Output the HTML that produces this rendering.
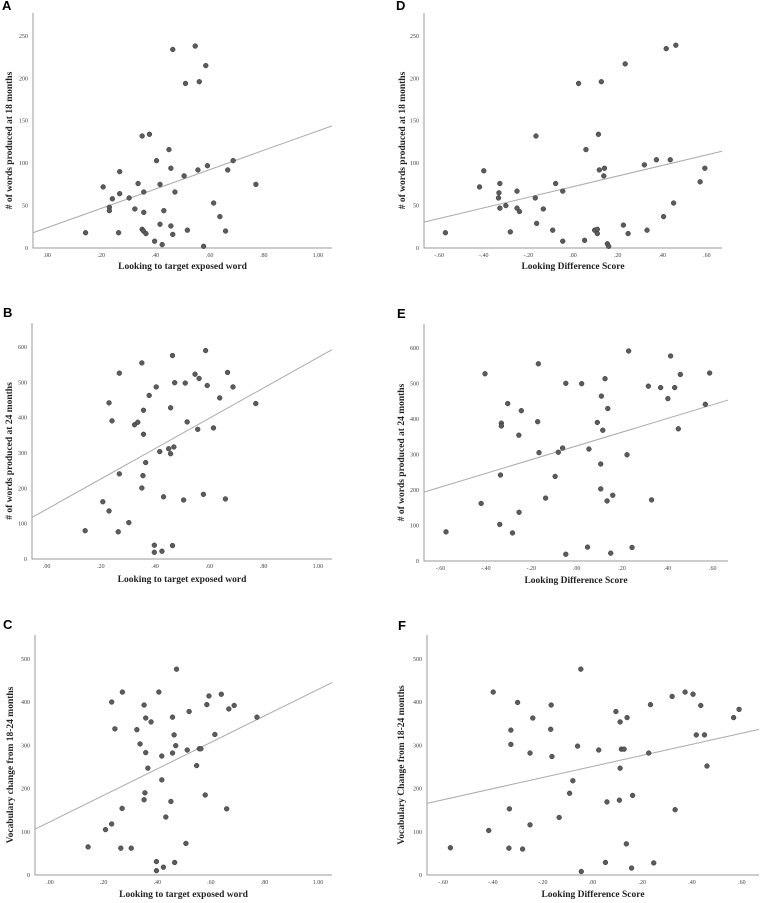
<!DOCTYPE html>
<html><head><meta charset="utf-8"><style>
html,body{margin:0;padding:0;background:#fff;}
svg{display:block;}
</style></head><body>
<svg id="fig" width="760" height="903" viewBox="0 0 760 903" xmlns="http://www.w3.org/2000/svg"></svg>
<script>
// ---- Panel A data ----
const aX=[.142,.207,.230,.230,.241,.268,.268,.264,.303,.324,.336,.351,.351,.356,.365,.357,.357,.378,.397,.404,.417,.417,.425,.431,.450,.457,.457,.464,.464,.472,.506,.511,.518,.547,.557,.562,.578,.586,.592,.615,.638,.659,.667,.687,.771];
const aY=[18,72,48,44,58,90,64,18,59,46,76,132,22,20,17,66,42,134,8,103,75,28,4,44,116,94,26,234,16,66,85,194,21,238,92,196,2,215,97,53,37,20,92,103,75];
const aFit=[23.9,114.1];
// ---- Panel D data ----
const dX=[-.572,-.419,-.400,-.334,-.332,-.328,-.328,-.301,-.281,-.251,-.251,-.240,-.169,-.166,-.163,-.133,-.091,-.078,-.046,-.046,.025,.052,.058,.097,.109,.109,.114,.118,.127,.138,.141,.154,.160,.226,.234,.247,.320,.332,.374,.406,.418,.436,.451,.461,.570,.591];
const dY=[18,72,91,59,65,76,47,50,19,67,47,43,59,132,29,46,21,76,67,8,194,9,116,21,22,17,134,92,196,85,94,5,2,27,217,17,98,21,104,37,235,104,53,239,78,94];
const dFit=[72.3,62.5];
// ---- Panel B data ----
const bX=[.142,.207,.230,.230,.241,.268,.268,.264,.303,.324,.336,.351,.351,.355,.357,.357,.365,.378,.397,.397,.404,.417,.425,.431,.450,.457,.457,.464,.464,.469,.472,.505,.511,.518,.547,.557,.562,.578,.586,.592,.615,.638,.659,.667,.687,.771];
const bY=[80,162,136,442,391,526,241,77,103,380,387,555,201,236,421,353,273,463,39,19,487,304,22,176,312,428,298,576,38,317,499,167,498,388,523,367,511,183,590,491,371,456,170,528,487,440];
const bFit=[140.8,429.4];
// ---- Panel E data ----
const eX=[-.576,-.421,-.404,-.339,-.336,-.332,-.332,-.304,-.283,-.255,-.254,-.244,-.172,-.169,-.166,-.137,-.095,-.081,-.062,-.048,-.048,.022,.048,.054,.091,.106,.106,.109,.115,.125,.134,.137,.150,.159,.222,.229,.244,.316,.330,.370,.402,.414,.432,.448,.457,.567,.586];
const eY=[82,162,527,103,242,388,380,443,79,354,137,423,392,555,305,177,238,306,318,500,19,499,39,315,390,273,203,464,368,513,169,429,22,185,299,591,38,492,172,488,457,577,488,372,525,441,529];
const eFit=[324,193.3];
// ---- Panel C data ----
const cX=[.142,.207,.230,.230,.242,.270,.269,.264,.303,.324,.336,.351,.351,.354,.357,.357,.365,.377,.397,.397,.406,.417,.417,.423,.432,.451,.457,.457,.463,.465,.469,.472,.507,.512,.519,.547,.557,.563,.579,.585,.593,.615,.639,.659,.667,.687,.772];
const cY=[65,105,118,400,338,423,154,62,62,336,303,393,174,190,363,283,247,354,31,10,423,275,220,18,134,170,282,365,324,29,299,476,73,289,378,253,292,292,185,394,414,325,418,153,384,392,365];
const cFit=[123,306];
// ---- Panel F data ----
const fX=[-.571,-.417,-.399,-.334,-.336,-.328,-.328,-.301,-.281,-.251,-.251,-.240,-.168,-.166,-.163,-.134,-.092,-.079,-.060,-.047,-.045,.025,.052,.058,.094,.108,.111,.111,.116,.127,.136,.139,.157,.161,.226,.233,.246,.320,.332,.372,.404,.417,.435,.450,.460,.567,.589];
const fY=[63,103,423,153,62,335,302,399,60,282,116,363,337,393,274,133,189,218,298,476,8,289,29,169,378,173,247,354,291,291,72,364,16,184,282,394,28,413,151,423,418,324,392,324,252,364,383];
const fFit=[251,128.2];
// ---- tick labels ----
const xTicksLook=[0,.2,.4,.6,.8,1.0];
const xTickLabelsLook=[".00",".20",".40",".60",".80","1.00"];
const xTicksDiff=[-.6,-.4,-.2,0,.2,.4,.6];
const xTickLabelsDiff=["-.60","-.40","-.20",".00",".20",".40",".60"];
const yTicks250=[0,50,100,150,200,250];
const yTicks600=[0,100,200,300,400,500,600];
const yTicks500=[0,100,200,300,400,500];

const NS="http://www.w3.org/2000/svg";
const svg=document.getElementById('fig');
function mk(tag,attrs,parent){const e=document.createElementNS(NS,tag);for(const k in attrs)e.setAttribute(k,attrs[k]);(parent||svg).appendChild(e);return e;}

const panels=[
 {id:'a',letter:'A',lx:2,ly:10,L:33,R:332,T:13,B:248,x0:-0.052,x1:1.052,y1:277,X:aX,Y:aY,fit:aFit,xt:xTicksLook,xl:xTickLabelsLook,yt:yTicks250,yTitle:'# of words produced at 18 months',xTitle:'Looking to target exposed word',ytx:10,tty:269},
 {id:'d',letter:'D',lx:396,ly:10,L:424,R:722,T:13,B:248,x0:-0.668,x1:0.668,y1:277,X:dX,Y:dY,fit:dFit,xt:xTicksDiff,xl:xTickLabelsDiff,yt:yTicks250,yTitle:'# of words produced at 18 months',xTitle:'Looking Difference Score',ytx:403,tty:269},
 {id:'b',letter:'B',lx:3,ly:317,L:32,R:332,T:323,B:559,x0:-0.054,x1:1.052,y1:668,X:bX,Y:bY,fit:bFit,xt:xTicksLook,xl:xTickLabelsLook,yt:yTicks600,yTitle:'# of words produced at 24 months',xTitle:'Looking to target exposed word',ytx:10,tty:582},
 {id:'e',letter:'E',lx:397,ly:318,L:424,R:728,T:324,B:561,x0:-0.673,x1:0.667,y1:667,X:eX,Y:eY,fit:eFit,xt:xTicksDiff,xl:xTickLabelsDiff,yt:yTicks600,yTitle:'# of words produced at 24 months',xTitle:'Looking Difference Score',ytx:402,tty:583},
 {id:'c',letter:'C',lx:3,ly:629,L:35,R:332,T:635,B:875,x0:-0.056,x1:1.052,y1:555,X:cX,Y:cY,fit:cFit,xt:xTicksLook,xl:xTickLabelsLook,yt:yTicks500,yTitle:'Vocabulary change from 18-24 months',xTitle:'Looking to target exposed word',ytx:11,tty:897},
 {id:'f',letter:'F',lx:398,ly:630,L:427,R:759,T:635,B:875,x0:-0.665,x1:0.669,y1:555,X:fX,Y:fY,fit:fFit,xt:xTicksDiff,xl:xTickLabelsDiff,yt:yTicks500,yTitle:'Vocabulary Change from 18-24 months',xTitle:'Looking Difference Score',ytx:402,tty:897}
];

panels.forEach(p=>{
  const g=mk('g',{});
  
  
  const sx=v=>p.L+(v-p.x0)/(p.x1-p.x0)*(p.R-p.L);
  const sy=v=>p.B-v/p.y1*(p.B-p.T);
  const lab=mk('text',{x:p.lx,y:p.ly,'font-family':'Liberation Sans, sans-serif','font-weight':'bold','font-size':'13'},g);
  lab.textContent=p.letter;
  
  
  const ax=mk('path',{d:`M${p.L} ${p.T}V${p.B}H${p.R}`,fill:'none',stroke:'#999','stroke-width':'1'},g);
  
  
  p.xt.forEach((t,i)=>{
    const tx=mk('text',{x:sx(t),y:p.B+9,'text-anchor':'middle','font-family':'Liberation Serif, serif','font-size':'6',fill:'#444'},g);
    tx.textContent=p.xl[i];
    
    
  });
  p.yt.forEach(t=>{
    const ty=mk('text',{x:p.L-5,y:sy(t)+2,'text-anchor':'end','font-family':'Liberation Serif, serif','font-size':'6',fill:'#444'},g);
    ty.textContent=String(t);
    
    
  });
  const xt=mk('text',{x:(p.L+p.R)/2,y:p.tty,'text-anchor':'middle','font-family':'Liberation Serif, serif','font-weight':'bold','font-size':'9.5',fill:'#222'},g);
  xt.textContent=p.xTitle;
  
  
  const cy=(p.T+p.B)/2+10;
  const yt=mk('text',{x:p.ytx,y:cy,'text-anchor':'middle','font-family':'Liberation Serif, serif','font-weight':'bold','font-size':'9.5',fill:'#222',transform:`rotate(-90 ${p.ytx} ${cy})`,'dominant-baseline':'middle'},g);
  yt.textContent=p.yTitle;
  
  
  const ln=mk('line',{x1:sx(p.x0),y1:sy(p.fit[0]+p.fit[1]*p.x0),x2:sx(p.x1),y2:sy(p.fit[0]+p.fit[1]*p.x1),stroke:'#aaa','stroke-width':'1'},g);
  
  
  p.X.forEach((x,i)=>{
    const c=mk('circle',{cx:sx(x),cy:sy(p.Y[i]),r:'2.4',fill:'#5c5c5c',stroke:'#333','stroke-width':'0.5'},g);
    
    
  });
});
</script>
</body></html>
